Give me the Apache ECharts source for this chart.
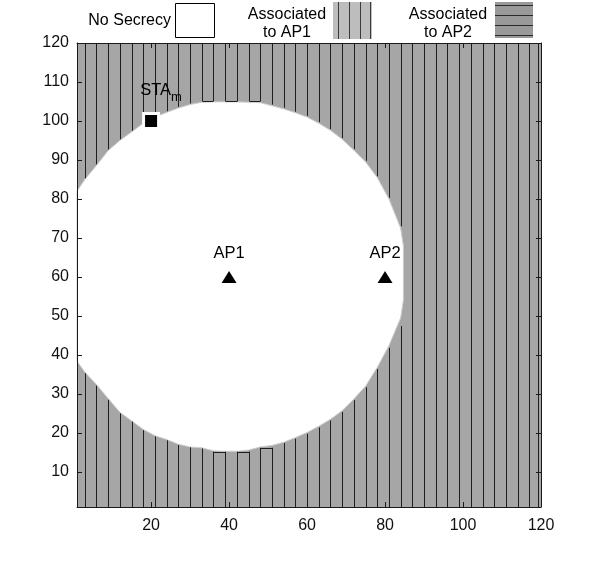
<!DOCTYPE html>
<html><head><meta charset="utf-8">
<script src="https://cdn.jsdelivr.net/npm/echarts@6/dist/echarts.min.js"></script>
<style>html,body{margin:0;padding:0;background:#fff}#c{width:598px;height:570px}</style>
</head><body><div id="c"></div>
<script>
// ---------- data ----------
const xRange = [1, 120];
const yRange = [1, 120];
const xTicks = [20, 40, 60, 80, 100, 120];
const yTicks = [10, 20, 30, 40, 50, 60, 70, 80, 90, 100, 110, 120];

// "No Secrecy" region: upper and lower boundary read at each x
const noSecX      = [1, 3, 6, 9, 12, 15, 18, 21, 24, 27, 30, 33, 36, 39, 42, 45, 48, 51, 54, 57, 60, 63, 66, 69, 72, 75, 78, 81, 84, 84.7];
const noSecTop    = [82.0, 85.0, 88.6, 92.4, 95.0, 97.2, 99.4, 101.0, 102.2, 103.3, 104.2, 104.8, 104.9, 104.9, 104.9, 104.8, 104.7, 103.9, 103.1, 102.1, 101.0, 99.4, 97.6, 95.3, 92.5, 89.5, 85.5, 80.0, 72.5, 68.0];
const noSecBottom = [38.4, 35.6, 32.4, 28.8, 25.3, 23.1, 20.9, 19.3, 18.3, 17.1, 16.4, 16.2, 15.4, 15.3, 15.3, 15.6, 16.4, 16.8, 17.6, 18.8, 20.1, 21.7, 23.5, 25.7, 28.7, 32.0, 36.8, 42.4, 49.5, 54.0];

// hatch lines of the "Associated to AP1" area
const hatchX = [3, 6, 9, 12, 15, 18, 21, 24, 27, 30, 33, 36, 39, 42, 45, 48, 51, 54, 57, 60, 63, 66, 69, 72, 75, 78, 81, 84,
                87, 90, 93, 96, 99, 102, 105, 108, 111, 114, 117, 119.2];
const hatchLowerEnd = [35.3, 32.1, 28.5, 25.0, 22.9, 20.7, 19.1, 18.1, 16.9, 16.3, 16.0, 15.2, 15.2, 15.2, 15.2, 16.2, 16.2, 17.4, 18.5, 19.8, 21.4, 23.2, 25.4, 28.4, 31.7, 36.4, 41.8, 47.4,
                       120, 120, 120, 120, 120, 120, 120, 120, 120, 120, 120, 120];
const hatchUpperEnd = [85.3, 88.9, 92.7, 95.3, 97.5, 99.7, 101.6, 102.5, 103.6, 104.5, 105.1, 105.1, 105.1, 105.1, 105.1, 105.1, 104.2, 103.4, 102.4, 101.3, 99.7, 97.9, 95.6, 92.8, 89.8, 85.8, 80.3, 73.0,
                       null, null, null, null, null, null, null, null, null, null, null, null];
// connecting segments of the hatch path along the flat boundary parts [x1, x2, y]
const hatchLinks = [[33, 36, 105.1], [39, 42, 105.1], [45, 48, 105.1], [36, 39, 15.2], [42, 45, 15.2], [48, 51, 16.2]];

const apNames = ['AP1', 'AP2'];
const apX = [40, 80];
const apY = [60, 60];
const staNames = ['STA'];
const staSub = 'm';
const staX = [20];
const staY = [100];

const legendNames = ['No Secrecy', 'Associated\nto AP1', 'Associated\nto AP2'];

// ---------- chart ----------
const FONT = '"Liberation Sans", Arial, Helvetica, sans-serif';
const AX = '#1a1a1a';
const GRAY = '#a6a6a6';
const HATCH = '#1e1e1e';

function axisCommon(range, ticks, pos, showLabel, margin) {
  return {
    type: 'value', min: range[0], max: range[1], position: pos, z: 10,
    axisLine: { show: true, onZero: false, lineStyle: { color: AX, width: 1 } },
    axisTick: { show: true, inside: true, length: 5, customValues: ticks, lineStyle: { color: AX, width: 1 } },
    axisLabel: { show: showLabel, customValues: ticks, fontSize: 16, color: '#111', fontFamily: FONT, margin: margin },
    splitLine: { show: false }
  };
}

const chart = echarts.init(document.getElementById('c'), null, { renderer: 'canvas' });
const option = {
  animation: false,
  grid: { left: 77, right: 57, top: 43, bottom: 63, show: true, backgroundColor: GRAY, borderWidth: 0 },
  xAxis: [axisCommon(xRange, xTicks, 'bottom', true, 11), axisCommon(xRange, xTicks, 'top', false, 8)],
  yAxis: [axisCommon(yRange, yTicks, 'left', true, 8), axisCommon(yRange, yTicks, 'right', false, 8)],
  graphic: [
    { type: 'text', x: 171, y: 21, style: { text: legendNames[0], align: 'right', verticalAlign: 'middle', font: '16px ' + FONT, fill: '#000' } },
    { type: 'rect', shape: { x: 175.5, y: 3.5, width: 39, height: 34 }, style: { fill: '#fff', stroke: '#000', lineWidth: 1 } },
    { type: 'text', x: 287, y: 24, style: { text: legendNames[1], align: 'center', verticalAlign: 'middle', lineHeight: 18, font: '16px ' + FONT, fill: '#000' } },
    { type: 'group', children: [
      { type: 'rect', shape: { x: 333, y: 2, width: 39, height: 37 }, style: { fill: '#bdbdbd' } },
      { type: 'line', shape: { x1: 338.5, y1: 2, x2: 338.5, y2: 39 }, style: { stroke: '#3a3a3a', lineWidth: 1 } },
      { type: 'line', shape: { x1: 349.5, y1: 2, x2: 349.5, y2: 39 }, style: { stroke: '#3a3a3a', lineWidth: 1 } },
      { type: 'line', shape: { x1: 360.5, y1: 2, x2: 360.5, y2: 39 }, style: { stroke: '#3a3a3a', lineWidth: 1 } },
      { type: 'line', shape: { x1: 370.5, y1: 2, x2: 370.5, y2: 39 }, style: { stroke: '#3a3a3a', lineWidth: 1 } }
    ] },
    { type: 'text', x: 448, y: 24, style: { text: legendNames[2], align: 'center', verticalAlign: 'middle', lineHeight: 18, font: '16px ' + FONT, fill: '#000' } },
    { type: 'group', children: [
      { type: 'rect', shape: { x: 495, y: 2, width: 38, height: 36 }, style: { fill: '#999999' } },
      { type: 'line', shape: { x1: 495, y1: 5.5, x2: 533, y2: 5.5 }, style: { stroke: '#2a2a2a', lineWidth: 1 } },
      { type: 'line', shape: { x1: 495, y1: 15.5, x2: 533, y2: 15.5 }, style: { stroke: '#2a2a2a', lineWidth: 1 } },
      { type: 'line', shape: { x1: 495, y1: 25.5, x2: 533, y2: 25.5 }, style: { stroke: '#2a2a2a', lineWidth: 1 } },
      { type: 'line', shape: { x1: 495, y1: 35.5, x2: 533, y2: 35.5 }, style: { stroke: '#2a2a2a', lineWidth: 1 } }
    ] }
  ],
  series: [
    {
      name: 'No Secrecy', type: 'custom', silent: true, z: 2,
      encode: { x: 0, y: 1 },
      data: [[noSecX[0], noSecTop[0]]],
      renderItem: function (params, api) {
        const pts = [];
        for (let i = 0; i < noSecX.length; i++) pts.push(api.coord([noSecX[i], noSecTop[i]]));
        for (let i = noSecX.length - 1; i >= 0; i--) pts.push(api.coord([noSecX[i], noSecBottom[i]]));
        return { type: 'polygon', shape: { points: pts }, style: { fill: '#ffffff', stroke: '#cfcfcf', lineWidth: 1 } };
      }
    },
    {
      name: 'Associated to AP1', type: 'custom', silent: true, z: 3,
      encode: { x: 0, y: 1 },
      data: hatchX.map((x, i) => [x, hatchLowerEnd[i], hatchUpperEnd[i] == null ? '-' : hatchUpperEnd[i]]),
      renderItem: function (params, api) {
        const x = api.value(0), lo = api.value(1), up = api.value(2);
        const b = api.coord([x, yRange[0]]);
        const t = api.coord([x, lo]);
        const px = Math.round(b[0]) + 0.5;
        const children = [{ type: 'line', shape: { x1: px, y1: b[1], x2: px, y2: t[1] }, style: { stroke: HATCH, lineWidth: 1 } }];
        if (up != null && !isNaN(up)) {
          const u = api.coord([x, up]);
          const tt = api.coord([x, yRange[1]]);
          children.push({ type: 'line', shape: { x1: px, y1: tt[1], x2: px, y2: u[1] }, style: { stroke: HATCH, lineWidth: 1 } });
        }
        return { type: 'group', children: children };
      }
    },
    {
      name: 'links', type: 'custom', silent: true, z: 3,
      encode: { x: 0, y: 2 },
      data: hatchLinks,
      renderItem: function (params, api) {
        const a = api.coord([api.value(0), api.value(2)]);
        const b = api.coord([api.value(1), api.value(2)]);
        const y = Math.round(a[1]) + 0.5;
        return { type: 'line', shape: { x1: Math.round(a[0]) + 0.5, y1: y, x2: Math.round(b[0]) + 0.5, y2: y }, style: { stroke: HATCH, lineWidth: 1 } };
      }
    },
    {
      name: 'AP', type: 'scatter', silent: true, z: 5,
      data: apNames.map((n, i) => ({ name: n, value: [apX[i], apY[i]] })),
      symbol: 'triangle', symbolSize: [15, 12],
      itemStyle: { color: '#000', opacity: 1 },
      label: { show: true, position: 'top', distance: 9, formatter: '{b}', fontSize: 16.5, color: '#000', fontFamily: FONT }
    },
    {
      name: 'STA', type: 'scatter', silent: true, z: 6,
      data: staNames.map((n, i) => ({ name: n, value: [staX[i], staY[i]] })),
      symbol: 'rect', symbolSize: 15,
      itemStyle: { color: '#000', borderColor: '#fff', borderWidth: 3, opacity: 1 },
      label: {
        show: true, position: 'top', distance: 8, offset: [10, 0],
        formatter: (p) => '{a|' + p.name + '}{b|' + staSub + '}',
        rich: {
          a: { fontSize: 16.5, color: '#000', fontFamily: FONT },
          b: { fontSize: 13, color: '#000', fontFamily: FONT, padding: [14, 0, 0, 0] }
        }
      }
    }
  ]
};
chart.setOption(option);
</script>
</body></html>
